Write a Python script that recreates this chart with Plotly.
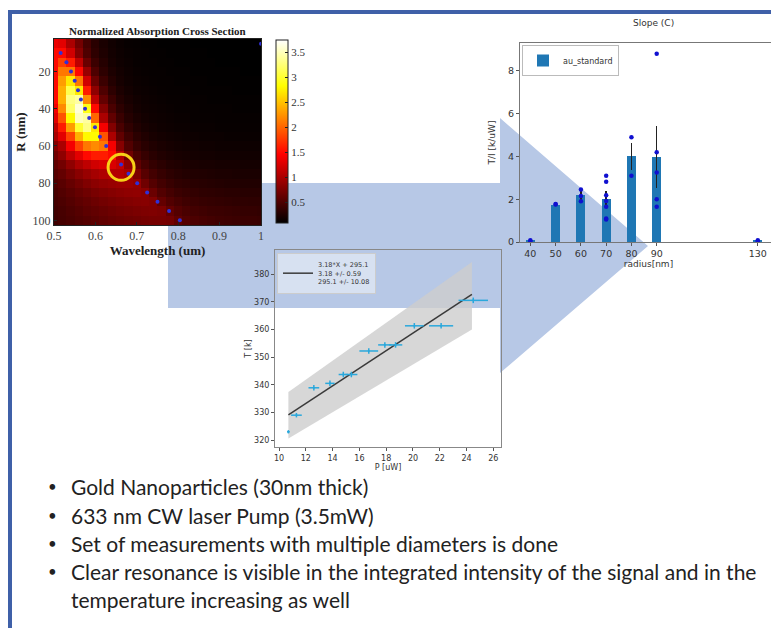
import plotly.graph_objects as go

# the page body adds an 8px offset; the figure fills the rest of the 779x628 window
OFF = 8
W, H = 779 - OFF, 628 - OFF

def px(x):
    return (x - OFF) / W

def py(y):
    return 1 - (y - OFF) / H

# ---------------- heatmap data (Normalized Absorption Cross Section) ----------------
wavelength = [0.50, 0.52, 0.54, 0.56, 0.58, 0.60, 0.62, 0.64, 0.66, 0.68, 0.70, 0.72, 0.74,
              0.76, 0.78, 0.80, 0.82, 0.84, 0.86, 0.88, 0.90, 0.92, 0.94, 0.96, 0.98, 1.00]
radius_R = [5, 10, 15, 20, 25, 30, 35, 40, 45, 50, 55, 60, 65, 70, 75, 80, 85, 90, 95, 100]
absorption = [
    [1.35, 1.30, 1.00, 0.70, 0.45, 0.30, 0.22, 0.17, 0.14, 0.12, 0.11, 0.10, 0.10, 0.09, 0.09, 0.09, 0.09, 0.08, 0.08, 0.08, 0.08, 0.08, 0.08, 0.08, 0.08, 0.08],
    [1.50, 1.50, 1.20, 0.80, 0.50, 0.33, 0.24, 0.18, 0.15, 0.13, 0.12, 0.11, 0.10, 0.10, 0.09, 0.09, 0.09, 0.09, 0.09, 0.08, 0.08, 0.08, 0.08, 0.08, 0.08, 0.08],
    [1.50, 1.80, 1.60, 1.10, 0.65, 0.40, 0.28, 0.20, 0.16, 0.14, 0.12, 0.11, 0.11, 0.10, 0.10, 0.09, 0.09, 0.09, 0.09, 0.09, 0.08, 0.08, 0.08, 0.08, 0.08, 0.08],
    [1.50, 2.10, 2.10, 1.50, 0.90, 0.50, 0.32, 0.23, 0.18, 0.15, 0.13, 0.12, 0.11, 0.11, 0.10, 0.10, 0.10, 0.09, 0.09, 0.09, 0.09, 0.09, 0.09, 0.08, 0.08, 0.08],
    [1.50, 2.30, 2.70, 2.10, 1.20, 0.65, 0.40, 0.27, 0.20, 0.16, 0.14, 0.13, 0.12, 0.11, 0.11, 0.10, 0.10, 0.10, 0.10, 0.09, 0.09, 0.09, 0.09, 0.09, 0.09, 0.09],
    [1.50, 2.40, 3.10, 2.70, 1.60, 0.85, 0.50, 0.32, 0.23, 0.18, 0.15, 0.14, 0.13, 0.12, 0.11, 0.11, 0.11, 0.10, 0.10, 0.10, 0.10, 0.10, 0.09, 0.09, 0.09, 0.09],
    [1.50, 2.40, 3.30, 3.40, 2.20, 1.10, 0.62, 0.40, 0.27, 0.21, 0.17, 0.15, 0.14, 0.13, 0.12, 0.12, 0.11, 0.11, 0.11, 0.10, 0.10, 0.10, 0.10, 0.10, 0.10, 0.10],
    [1.40, 2.20, 3.20, 3.60, 2.90, 1.50, 0.80, 0.48, 0.32, 0.24, 0.19, 0.16, 0.15, 0.14, 0.13, 0.12, 0.12, 0.12, 0.11, 0.11, 0.11, 0.11, 0.10, 0.10, 0.10, 0.10],
    [1.30, 1.90, 2.80, 3.50, 3.40, 2.00, 1.00, 0.60, 0.39, 0.28, 0.22, 0.18, 0.16, 0.15, 0.14, 0.13, 0.13, 0.12, 0.12, 0.12, 0.11, 0.11, 0.11, 0.11, 0.11, 0.11],
    [1.10, 1.60, 2.30, 3.00, 3.30, 2.70, 1.40, 0.78, 0.48, 0.34, 0.26, 0.21, 0.18, 0.16, 0.15, 0.14, 0.14, 0.13, 0.13, 0.13, 0.12, 0.12, 0.12, 0.12, 0.12, 0.12],
    [1.00, 1.30, 1.80, 2.40, 2.80, 2.80, 1.90, 1.00, 0.60, 0.42, 0.31, 0.25, 0.21, 0.19, 0.17, 0.16, 0.15, 0.15, 0.14, 0.14, 0.14, 0.13, 0.13, 0.13, 0.13, 0.13],
    [0.80, 1.00, 1.40, 1.80, 2.10, 2.20, 2.10, 1.40, 0.80, 0.52, 0.38, 0.30, 0.25, 0.22, 0.20, 0.18, 0.17, 0.17, 0.16, 0.16, 0.15, 0.15, 0.15, 0.15, 0.15, 0.15],
    [0.70, 0.85, 1.10, 1.30, 1.50, 1.60, 1.60, 1.50, 1.05, 0.68, 0.48, 0.37, 0.30, 0.26, 0.23, 0.21, 0.20, 0.19, 0.18, 0.18, 0.17, 0.17, 0.17, 0.17, 0.17, 0.17],
    [0.60, 0.70, 0.85, 1.00, 1.10, 1.20, 1.25, 1.25, 1.15, 0.85, 0.60, 0.45, 0.36, 0.31, 0.27, 0.25, 0.23, 0.22, 0.21, 0.21, 0.20, 0.20, 0.20, 0.19, 0.19, 0.19],
    [0.55, 0.62, 0.72, 0.82, 0.90, 0.97, 1.02, 1.05, 1.05, 0.98, 0.75, 0.55, 0.44, 0.37, 0.32, 0.29, 0.27, 0.26, 0.25, 0.24, 0.23, 0.23, 0.22, 0.22, 0.22, 0.22],
    [0.50, 0.56, 0.63, 0.70, 0.77, 0.83, 0.87, 0.90, 0.92, 0.92, 0.88, 0.68, 0.53, 0.44, 0.38, 0.34, 0.32, 0.30, 0.29, 0.28, 0.27, 0.26, 0.26, 0.25, 0.25, 0.25],
    [0.47, 0.52, 0.57, 0.63, 0.68, 0.73, 0.77, 0.80, 0.83, 0.85, 0.86, 0.82, 0.65, 0.52, 0.45, 0.40, 0.37, 0.35, 0.33, 0.32, 0.31, 0.30, 0.30, 0.29, 0.29, 0.29],
    [0.45, 0.49, 0.53, 0.58, 0.62, 0.66, 0.70, 0.73, 0.76, 0.78, 0.80, 0.81, 0.78, 0.62, 0.52, 0.46, 0.42, 0.39, 0.37, 0.36, 0.35, 0.34, 0.33, 0.33, 0.32, 0.32],
    [0.43, 0.46, 0.50, 0.54, 0.58, 0.61, 0.64, 0.67, 0.70, 0.72, 0.74, 0.76, 0.77, 0.75, 0.62, 0.53, 0.48, 0.44, 0.42, 0.40, 0.39, 0.38, 0.37, 0.36, 0.36, 0.35],
    [0.42, 0.45, 0.48, 0.51, 0.54, 0.57, 0.60, 0.63, 0.65, 0.67, 0.69, 0.71, 0.72, 0.72, 0.70, 0.60, 0.53, 0.49, 0.46, 0.44, 0.42, 0.41, 0.40, 0.39, 0.39, 0.38],
]
peak_wavelength = [1.00, 0.516, 0.530, 0.541, 0.550, 0.558, 0.565, 0.575, 0.585, 0.599, 0.611,
                   0.626, 0.662, 0.680, 0.701, 0.725, 0.750, 0.778, 0.804]
peak_R = [5, 10, 15, 20, 25, 30, 35, 40, 45, 50, 55, 60, 70, 75, 80, 85, 90, 95, 100]
marked_wavelength = [0.662]
marked_R = [71.5]

# ---------------- bar chart data (Slope (C)) ----------------
radius_nm = [40, 50, 60, 70, 80, 90, 130]
slope_mean = [0.05, 1.75, 2.20, 2.00, 4.00, 3.97, 0.05]
slope_err = [0.02, 0.03, 0.25, 0.38, 0.62, 1.45, 0.02]
meas_radius = [40, 40, 50, 50, 60, 60, 60, 70, 70, 70, 70, 70, 70, 70, 80, 80,
               90, 90, 90, 90, 90, 130, 130]
meas_slope = [0.08, 0.04, 1.75, 1.78, 2.45, 2.15, 1.90, 3.10, 2.82, 2.18, 1.92, 1.65, 1.10, 1.05,
              4.90, 3.10, 8.80, 4.20, 3.25, 2.00, 1.65, 0.08, 0.04]

# ---------------- line plot data (T vs P) ----------------
power_uW = [10.7, 11.3, 12.6, 13.8, 14.8, 15.4, 16.7, 17.9, 18.7, 20.1, 22.1, 24.5]
power_err = [0.1, 0.4, 0.4, 0.35, 0.35, 0.45, 0.7, 0.5, 0.5, 0.7, 0.9, 1.1]
temp_K = [323.0, 329.0, 338.9, 340.5, 343.7, 343.7, 352.2, 354.4, 354.4, 361.3, 361.3, 370.5]
temp_err = [0.6, 0.8, 1.0, 1.0, 1.0, 1.0, 1.0, 1.0, 1.0, 1.0, 1.0, 1.0]
fit_P = [10.7, 24.4]
fit_T = [329.1, 372.7]
band_P = [10.7, 24.4]
band_low = [320.6, 360.0]
band_high = [337.4, 384.4]
fit_label = "3.18*X + 295.1<br>3.18 +/- 0.59<br>295.1 +/- 10.08"

bullets = [
    "Gold Nanoparticles (30nm thick)",
    "633 nm CW laser Pump (3.5mW)",
    "Set of measurements with multiple diameters is done",
    "Clear resonance is visible in the integrated intensity of the signal and in the",
]
bullet_cont = "temperature increasing as well"

SERIF = "Liberation Serif, Times New Roman, serif"
SANS = "DejaVu Sans, sans-serif"
BODY = "Lato, sans-serif"
hot = [[0.0, "rgb(0,0,0)"], [0.375, "rgb(255,0,0)"], [0.75, "rgb(255,255,0)"], [1.0, "rgb(255,255,255)"]]

fig = go.Figure()

# heatmap
fig.add_trace(go.Heatmap(
    x=wavelength, y=radius_R, z=absorption, colorscale=hot, zmin=0.08, zmax=3.74,
    xaxis="x", yaxis="y", zsmooth=False,
    colorbar=dict(x=px(276), xanchor="left", y=py(131.5), yanchor="middle",
                  len=183, lenmode="pixels", thickness=12, thicknessmode="pixels",
                  xpad=0, ypad=0, outlinewidth=1, outlinecolor="#222",
                  tickvals=[0.5, 1, 1.5, 2, 2.5, 3, 3.5],
                  ticks="inside", ticklen=3, tickcolor="#222",
                  tickfont=dict(family=SERIF, size=11, color="#333")),
    showscale=True, hoverinfo="skip",
))
fig.add_trace(go.Scatter(
    x=peak_wavelength, y=peak_R, mode="markers", xaxis="x", yaxis="y",
    marker=dict(color="#3030d8", size=4), showlegend=False, hoverinfo="skip",
))
fig.add_trace(go.Scatter(
    x=marked_wavelength, y=marked_R, mode="markers", xaxis="x", yaxis="y",
    marker=dict(symbol="circle-open", size=26, color="#f7d117", line=dict(width=3, color="#f7d117")),
    showlegend=False, hoverinfo="skip",
))

# bar chart
fig.add_trace(go.Bar(
    x=radius_nm, y=slope_mean, width=3.6, marker=dict(color="#1f77b4", line=dict(width=0)),
    error_y=dict(type="data", array=slope_err, color="#222", thickness=1.5, width=0),
    name="au_standard", xaxis="x2", yaxis="y2", legend="legend",
))
fig.add_trace(go.Scatter(
    x=meas_radius, y=meas_slope, mode="markers", xaxis="x2", yaxis="y2",
    marker=dict(color="#1010d0", size=4.5), showlegend=False,
))

# line plot
fig.add_trace(go.Scatter(
    x=band_P + band_P[::-1], y=band_high + band_low[::-1], fill="toself",
    fillcolor="rgba(205,205,205,0.8)", line=dict(width=0), mode="lines",
    xaxis="x3", yaxis="y3", showlegend=False, hoverinfo="skip",
))
fig.add_trace(go.Scatter(
    x=fit_P, y=fit_T, mode="lines", line=dict(color="#3a3a3a", width=1.5),
    name=fit_label, xaxis="x3", yaxis="y3", legend="legend2",
))
fig.add_trace(go.Scatter(
    x=power_uW, y=temp_K, mode="markers", xaxis="x3", yaxis="y3",
    marker=dict(color="#2aa8dc", size=2),
    error_x=dict(type="data", array=power_err, color="#2aa8dc", thickness=1.5, width=0),
    error_y=dict(type="data", array=temp_err, color="#2aa8dc", thickness=1.5, width=0),
    showlegend=False,
))

# arrow (behind the plots)
arrow_pts = [(168, 183), (500, 183), (500, 118), (648, 246), (500, 373), (500, 308), (168, 308)]
path = "M " + " L ".join(f"{px(a):.5f},{py(b):.5f}" for a, b in arrow_pts) + " Z"
shapes = [
    dict(type="path", xref="paper", yref="paper", path=path, fillcolor="#b7c8e6",
         line=dict(width=0), layer="below"),
    dict(type="line", xref="paper", yref="paper", x0=px(8), x1=1, y0=py(12), y1=py(12),
         line=dict(color="#3f60a8", width=4), layer="above"),
    dict(type="line", xref="paper", yref="paper", x0=px(10), x1=px(10), y0=py(10), y1=0,
         line=dict(color="#3f60a8", width=4), layer="above"),
]

annotations = [
    dict(text="<b>Normalized Absorption Cross Section</b>", x=px(157), y=py(31), xref="paper", yref="paper",
         showarrow=False, font=dict(family=SERIF, size=11, color="#222"), xanchor="center", yanchor="middle"),
    dict(text="Slope (C)", x=px(653), y=py(23), xref="paper", yref="paper", showarrow=False,
         font=dict(family=SANS, size=9, color="#333"), xanchor="center", yanchor="middle"),
]
line_y = [486, 515, 543, 571]
for t, yy in zip(bullets, line_y):
    annotations.append(dict(text="•", x=px(46), y=py(yy), xref="paper", yref="paper", showarrow=False,
                            xanchor="left", yanchor="middle", font=dict(family=BODY, size=15, color="#222")))
    annotations.append(dict(text=t, x=px(69), y=py(yy), xref="paper", yref="paper", showarrow=False,
                            xanchor="left", yanchor="middle", font=dict(family=BODY, size=21, color="#222")))
annotations.append(dict(text=bullet_cont, x=px(69), y=py(599), xref="paper", yref="paper", showarrow=False,
                        xanchor="left", yanchor="middle", font=dict(family=BODY, size=21, color="#222")))

common_ax = dict(showgrid=False, zeroline=False, automargin=False, showline=True, mirror=True, linewidth=1)

fig.update_layout(
    width=W, height=H, autosize=False,
    margin=dict(l=0, r=0, t=0, b=0, pad=0, autoexpand=False),
    paper_bgcolor="white", plot_bgcolor="rgba(0,0,0,0)",
    shapes=shapes, annotations=annotations, bargap=0,
    xaxis=dict(domain=[px(54), px(261)], anchor="y", range=[0.5, 1.0],
               tickvals=[0.5, 0.6, 0.7, 0.8, 0.9, 1.0], ticktext=["0.5", "0.6", "0.7", "0.8", "0.9", "1"],
               ticks="inside", ticklen=3, tickcolor="#222", linecolor="#222",
               tickfont=dict(family=SERIF, size=12, color="#444"),
               title=dict(text="<b>Wavelength (um)</b>", standoff=2,
                          font=dict(family=SERIF, size=13, color="#222")), **common_ax),
    yaxis=dict(domain=[py(225), py(39)], anchor="x", range=[102.5, 2.5],
               tickvals=[20, 40, 60, 80, 100],
               ticks="inside", ticklen=3, tickcolor="#222", linecolor="#222",
               tickfont=dict(family=SERIF, size=12, color="#444"),
               title=dict(text="<b>R (nm)</b>", standoff=4,
                          font=dict(family=SERIF, size=13, color="#222")), **common_ax),
    xaxis2=dict(domain=[px(520), px(777)], anchor="y2", range=[35.9, 137.6],
                tickvals=radius_nm, ticks="outside", ticklen=3, tickcolor="#555", linecolor="#777",
                tickfont=dict(family=SANS, size=9.5, color="#333"),
                title=dict(text="radius[nm]", standoff=1, font=dict(family=SANS, size=9, color="#333")),
                **common_ax),
    yaxis2=dict(domain=[py(242), py(43)], anchor="x2", range=[0, 9.3],
                tickvals=[0, 2, 4, 6, 8], ticks="outside", ticklen=3, tickcolor="#555", linecolor="#777",
                tickfont=dict(family=SANS, size=9.5, color="#333"),
                title=dict(text="T/I [k/uW]", standoff=10, font=dict(family=SANS, size=9, color="#333")),
                **common_ax),
    xaxis3=dict(domain=[px(275), px(501)], anchor="y3", range=[9.7, 26.57],
                tickvals=[10, 12, 14, 16, 18, 20, 22, 24, 26], ticks="outside", ticklen=3, tickcolor="#555",
                linecolor="#888", tickfont=dict(family=SANS, size=8, color="#333"),
                title=dict(text="P [uW]", standoff=0, font=dict(family=SANS, size=8, color="#333")),
                **common_ax),
    yaxis3=dict(domain=[py(447), py(250)], anchor="x3", range=[317.5, 388.7],
                tickvals=[320, 330, 340, 350, 360, 370, 380], ticks="outside", ticklen=3, tickcolor="#555",
                linecolor="#888", tickfont=dict(family=SANS, size=8, color="#333"),
                title=dict(text="T [k]", standoff=1, font=dict(family=SANS, size=8, color="#333")),
                **common_ax),
    legend=dict(x=px(522), y=py(45), xanchor="left", yanchor="top", bgcolor="rgba(255,255,255,0.85)",
                bordercolor="#bbb", borderwidth=1, font=dict(family=SANS, size=8, color="#333"),
                itemwidth=30, tracegroupgap=0),
    legend2=dict(x=px(277), y=py(253), xanchor="left", yanchor="top", bgcolor="rgba(255,255,255,0.45)",
                 bordercolor="#ccc", borderwidth=1, font=dict(family=SANS, size=6.5, color="#333"),
                 itemwidth=30),
)

fig.write_html("out.html")
